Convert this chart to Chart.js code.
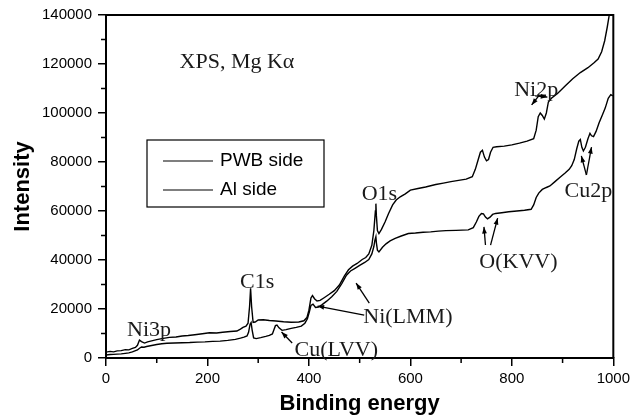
<!DOCTYPE html>
<html>
<head>
<meta charset="utf-8">
<script src="https://cdn.jsdelivr.net/npm/chart.js@4.4.1/dist/chart.umd.min.js"></script>
<style>
  html, body { margin: 0; padding: 0; background: #fff; }
</style>
</head>
<body>
<canvas id="xpsChart" width="634" height="417"></canvas>
<script>
// Dados (energia de ligação x intensidade)
const pwbEnergy = [0, 8, 15, 22, 30, 38, 45, 52, 58, 62, 66, 70, 76, 82, 90, 100, 110, 125, 138, 150, 162, 175, 190, 204, 218, 230, 245, 258, 265, 270, 276, 280, 283, 285, 287, 290, 294, 300, 310, 322, 335, 350, 365, 380, 390, 396, 400, 404, 407, 411, 416, 422, 430, 440, 450, 460, 470, 478, 486, 495, 505, 512, 518, 524, 528, 531, 532, 533, 535, 538, 543, 550, 557, 565, 572, 580, 590, 600, 615, 630, 650, 665, 680, 695, 710, 722, 728, 733, 738, 742, 746, 750, 754, 758, 763, 770, 785, 800, 815, 830, 843, 848, 852, 856, 860, 864, 868, 872, 878, 890, 905, 920, 935, 950, 962, 970, 977, 983, 988, 992];
const pwbIntensity = [2400, 2700, 2500, 2900, 3000, 3400, 3300, 3900, 4300, 5200, 7300, 6700, 6100, 6600, 7000, 7500, 7900, 8400, 8600, 9000, 9200, 9500, 9900, 10300, 10200, 10500, 10800, 11000, 11800, 12500, 13000, 14200, 21000, 28500, 21000, 14500, 14700, 15500, 15600, 15300, 15100, 14800, 14600, 14700, 15200, 16500, 19500, 24500, 25500, 24200, 23300, 23500, 24600, 26000, 27500, 29800, 33500, 36000, 37500, 38600, 40200, 41000, 42500, 46000, 52000, 60000, 63000, 58000, 52000, 50800, 52500, 55500, 59000, 62500, 64500, 65800, 67000, 68500, 69200, 69800, 70800, 71400, 72000, 72500, 73000, 74000, 77000, 80500, 84000, 84800, 82000, 80500, 81000, 84000, 86000, 86200, 86500, 87000, 87700, 88500, 89500, 93000, 98500, 100000, 99000, 97500, 100000, 104500, 106000, 108000, 111000, 114000, 116500, 118500, 120500, 122000, 125000, 129500, 135000, 140000];

const alEnergy = [0, 8, 15, 22, 30, 38, 45, 52, 57, 62, 66, 70, 75, 80, 90, 100, 110, 120, 135, 150, 165, 180, 195, 210, 225, 240, 255, 265, 272, 278, 281, 284, 286, 288, 291, 296, 305, 315, 322, 328, 331, 334, 337, 341, 347, 355, 365, 375, 385, 392, 397, 401, 404, 408, 413, 419, 426, 435, 445, 455, 465, 474, 482, 490, 500, 510, 518, 524, 528, 530, 532, 533, 535, 538, 545, 552, 560, 570, 582, 596, 610, 625, 640, 655, 670, 690, 714, 724, 730, 735, 740, 744, 748, 752, 757, 762, 768, 780, 794, 810, 825, 838, 843, 848, 853, 860, 868, 875, 885, 895, 905, 913, 918, 923, 928, 932, 935, 938, 941, 945, 950, 954, 957, 961, 966, 972, 978, 984, 990, 995, 999];
const alIntensity = [1200, 1400, 1500, 1600, 1700, 1900, 2100, 2500, 2900, 3300, 4000, 4500, 4400, 4700, 5100, 5500, 5800, 6000, 6100, 6200, 6300, 6500, 6600, 6800, 6900, 7200, 7600, 8100, 8500, 9000, 10500, 13800, 14500, 11500, 8200, 7900, 8300, 8800, 9200, 9800, 11500, 13200, 13400, 12300, 11300, 11600, 12100, 12500, 13000, 14200, 16000, 19000, 21500, 22000, 20600, 20800, 21800, 23200, 25000, 27200, 30500, 33800, 35500, 36500, 37800, 39000, 40200, 42500, 45500, 48000, 49500, 47000, 44000, 43300, 45200, 46600, 47800, 48800, 49800, 50800, 51000, 51300, 51500, 51800, 52000, 52100, 52300, 53200, 55500, 57800, 59000, 58800, 57500, 56800, 57500, 58600, 59000, 59300, 59700, 60000, 60300, 60700, 62500, 65500, 67300, 68800, 69600, 70200, 72000, 73800, 75500, 77000, 78500, 81000, 85500, 88500, 89200, 86000, 84500, 86000, 89500, 91700, 90700, 90400, 92500, 96000, 99000, 102000, 106000, 107500, 107000];

const seriesNames = ['PWB side', 'Al side'];
const xTicks = [0, 200, 400, 600, 800, 1000];
const yTicks = [0, 20000, 40000, 60000, 80000, 100000, 120000, 140000];

// Rótulos dos picos: texto, energia, intensidade (linha de base do texto)
const peakLabels = [
  { text: 'XPS, Mg K\u03b1', x: 145, y: 118400, align: 'left' },
  { text: 'C1s', x: 298, y: 28600 },
  { text: 'Ni3p', x: 85, y: 9000 },
  { text: 'Cu(LVV)', x: 454, y: 800 },
  { text: 'Ni(LMM)', x: 595, y: 14300 },
  { text: 'O(KVV)', x: 813, y: 36700 },
  { text: 'O1s', x: 539, y: 64500 },
  { text: 'Ni2p', x: 848, y: 106900 },
  { text: 'Cu2p', x: 951, y: 65700 }
];

// Setas: [energia inicial, intensidade inicial, energia final, intensidade final]
const arrows = [
  [367, 6100, 346, 10600],
  [509, 17500, 417, 21200],
  [519, 22400, 493, 30600],
  [748, 46100, 745, 53500],
  [758, 46100, 772, 57100],
  [853, 107000, 839, 103300],
  [846, 107000, 870, 106500],
  [947, 74700, 937, 82500],
  [947, 74700, 957, 86100]
];

function toPoints(xs, ys) {
  return xs.map((x, i) => ({ x: x, y: ys[i] }));
}

function drawArrow(ctx, x1, y1, x2, y2) {
  const ang = Math.atan2(y2 - y1, x2 - x1);
  const len = 7;
  ctx.beginPath();
  ctx.moveTo(x1, y1);
  ctx.lineTo(x2, y2);
  ctx.stroke();
  ctx.beginPath();
  ctx.moveTo(x2, y2);
  ctx.lineTo(x2 - len * Math.cos(ang - 0.35), y2 - len * Math.sin(ang - 0.35));
  ctx.lineTo(x2 - len * Math.cos(ang + 0.35), y2 - len * Math.sin(ang + 0.35));
  ctx.closePath();
  ctx.fill();
}

// Moldura, marcas menores, legenda e anotações
const xpsDecor = {
  id: 'xpsDecor',
  afterDraw(chart) {
    const ctx = chart.ctx;
    const area = chart.chartArea;
    const xs = chart.scales.x;
    const ys = chart.scales.y;
    ctx.save();
    ctx.strokeStyle = '#000';
    ctx.fillStyle = '#000';

    // topo e lado direito
    ctx.lineWidth = 2;
    ctx.beginPath();
    ctx.moveTo(area.left, area.top);
    ctx.lineTo(area.right, area.top);
    ctx.lineTo(area.right, area.bottom);
    ctx.stroke();

    // marcas menores
    ctx.lineWidth = 1.5;
    ctx.beginPath();
    for (let i = 0; i < xTicks.length - 1; i++) {
      const px = xs.getPixelForValue((xTicks[i] + xTicks[i + 1]) / 2);
      ctx.moveTo(px, area.bottom);
      ctx.lineTo(px, area.bottom + 5);
    }
    for (let i = 0; i < yTicks.length - 1; i++) {
      const py = ys.getPixelForValue((yTicks[i] + yTicks[i + 1]) / 2);
      ctx.moveTo(area.left, py);
      ctx.lineTo(area.left - 5, py);
    }
    ctx.stroke();

    // legenda
    const lx = area.left + 41;
    const ly = area.top + 125;
    ctx.lineWidth = 1.2;
    ctx.strokeRect(lx, ly, 177, 67);
    ctx.font = '19px "Liberation Sans", Arial, sans-serif';
    ctx.textBaseline = 'middle';
    ctx.textAlign = 'left';
    chart.data.datasets.forEach((ds, i) => {
      const y = ly + 21 + i * 29;
      ctx.beginPath();
      ctx.moveTo(lx + 16, y);
      ctx.lineTo(lx + 66, y);
      ctx.stroke();
      ctx.fillText(ds.label, lx + 73, y);
    });

    // textos dos picos
    ctx.fillStyle = '#1a1a1a';
    ctx.font = '22px "Liberation Serif", "Times New Roman", serif';
    ctx.textBaseline = 'alphabetic';
    peakLabels.forEach(lb => {
      ctx.textAlign = lb.align || 'center';
      ctx.fillText(lb.text, xs.getPixelForValue(lb.x), ys.getPixelForValue(lb.y));
    });

    // setas
    ctx.lineWidth = 1.3;
    ctx.fillStyle = '#000';
    arrows.forEach(a => {
      drawArrow(ctx, xs.getPixelForValue(a[0]), ys.getPixelForValue(a[1]),
        xs.getPixelForValue(a[2]), ys.getPixelForValue(a[3]));
    });
    ctx.restore();
  }
};

const tickFont = { family: '"Liberation Sans", Arial, sans-serif', size: 15 };
const titleFont = { family: '"Liberation Sans", Arial, sans-serif', size: 22, weight: 'bold' };

new Chart(document.getElementById('xpsChart').getContext('2d'), {
  type: 'line',
  data: {
    datasets: [{
      label: seriesNames[0],
      data: toPoints(pwbEnergy, pwbIntensity),
      borderColor: '#000',
      borderWidth: 1.4,
      pointRadius: 0,
      fill: false,
      tension: 0
    }, {
      label: seriesNames[1],
      data: toPoints(alEnergy, alIntensity),
      borderColor: '#000',
      borderWidth: 1.4,
      pointRadius: 0,
      fill: false,
      tension: 0
    }]
  },
  options: {
    responsive: false,
    animation: false,
    layout: { padding: { left: 0, top: 15, right: 19, bottom: 0 } },
    plugins: {
      legend: { display: false },
      tooltip: { enabled: false }
    },
    scales: {
      x: {
        type: 'linear',
        min: 0,
        max: 1000,
        afterBuildTicks: scale => { scale.ticks = xTicks.map(v => ({ value: v })); },
        afterFit: scale => { scale.height = 59; },
        ticks: { font: tickFont, color: '#000', padding: 4, maxRotation: 0, callback: v => String(v) },
        grid: { drawOnChartArea: false, drawTicks: true, tickLength: 8, color: '#000', lineWidth: 1.5 },
        border: { display: true, color: '#000', width: 2 },
        title: { display: true, text: 'Binding energy', font: titleFont, color: '#000', padding: { top: 0, bottom: 0 } }
      },
      y: {
        type: 'linear',
        min: 0,
        max: 140000,
        afterBuildTicks: scale => { scale.ticks = yTicks.map(v => ({ value: v })); },
        afterFit: scale => { scale.width = 106; },
        ticks: { font: tickFont, color: '#000', padding: 6, callback: v => String(v) },
        grid: { drawOnChartArea: false, drawTicks: true, tickLength: 8, color: '#000', lineWidth: 1.5 },
        border: { display: true, color: '#000', width: 2 },
        title: { display: true, text: 'Intensity', font: titleFont, color: '#000', padding: { top: 10, bottom: 0 } }
      }
    }
  },
  plugins: [xpsDecor]
});
</script>
</body>
</html>
